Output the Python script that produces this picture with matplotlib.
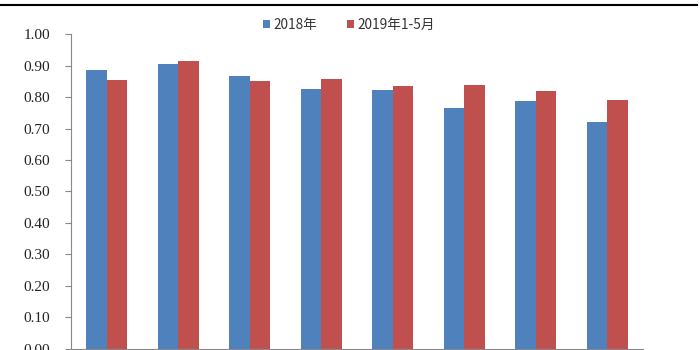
import numpy as np
import matplotlib.pyplot as plt

plt.rcParams['font.family'] = ['Noto Sans CJK SC', 'DejaVu Sans']

# 数据 ---------------------------
categories = ['1', '2', '3', '4', '5', '6', '7', '8']
series_names = ['2018年', '2019年1-5月']
v2018 = [0.885, 0.904, 0.868, 0.826, 0.824, 0.766, 0.788, 0.722]
v2019 = [0.855, 0.916, 0.851, 0.857, 0.837, 0.840, 0.819, 0.790]
yticks = [0.0, 0.1, 0.2, 0.3, 0.4, 0.5, 0.6, 0.7, 0.8, 0.9, 1.0]

blue = '#4F81BD'
red = '#C0504D'

fig = plt.figure(figsize=(7, 3.5), dpi=100)
ax = fig.add_axes([71/700, 0.004, 572/700, 0.898])

x = np.arange(len(categories))
w = 0.287
ax.bar(x - w/2, v2018, w, color=blue, label=series_names[0])
ax.bar(x + w/2, v2019, w, color=red, label=series_names[1])

ax.set_xlim(-0.5, len(categories) - 0.5)
ax.set_ylim(0, 1.0)
ax.set_yticks(yticks)
ax.set_yticklabels([f'{t:.2f}' for t in yticks], family='Liberation Serif', fontsize=11)
ax.set_xticks([])
ax.tick_params(axis='y', length=4, color='#888888', pad=11, labelcolor='#222222')

for s in ['top', 'right']:
    ax.spines[s].set_visible(False)
for s in ['left', 'bottom']:
    ax.spines[s].set_color('#888888')

leg = fig.legend(loc='center', bbox_to_anchor=(0.499, 0.928), ncol=2, frameon=False,
                 fontsize=9.8, handlelength=0.5, handleheight=0.5, handletextpad=0.25,
                 columnspacing=2.2, labelcolor='#333333')

# 顶部标题分隔线
fig.add_artist(plt.Line2D([0, 0.995], [1 - 5/350, 1 - 5/350], color='black', lw=1.5))

fig.savefig('out.png', dpi=100)
